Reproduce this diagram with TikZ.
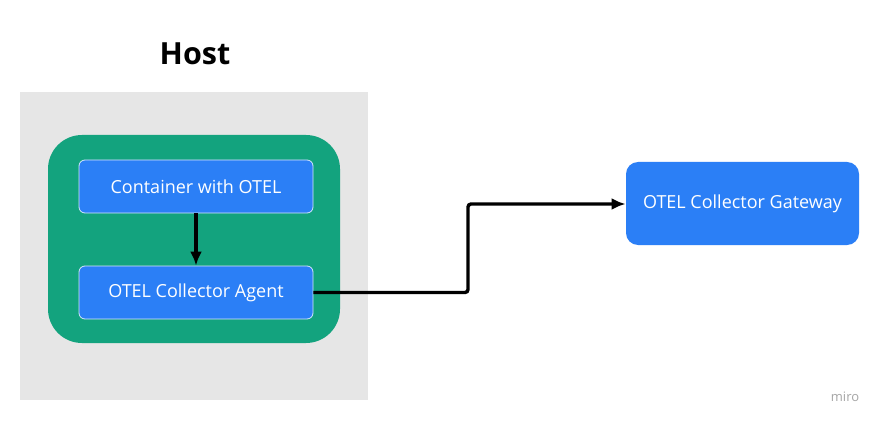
\documentclass[tikz,border=0pt]{standalone}
\usepackage{fontspec}
\setmainfont{Open Sans}
\definecolor{hostgrey}{HTML}{E6E6E6}
\definecolor{podgreen}{HTML}{13A37E}
\definecolor{boxblue}{HTML}{2B7FF6}
\tikzset{
  bluebox/.style={fill=boxblue,draw=white!80!boxblue,line width=0.8pt,rounded corners=6pt,text=white,font=\fontsize{18}{22}\selectfont},
  conn/.style={line width=3.4pt,-{Latex[length=14pt,width=12pt]}}
}
\usetikzlibrary{arrows.meta}
\begin{document}
\begin{tikzpicture}[x=1pt,y=-1pt]
\useasboundingbox (0,0) rectangle (880,422);
\fill[white] (0,0) rectangle (880,422);
\fill[hostgrey] (20,92) rectangle (368,400);
\node[font=\bfseries\fontsize{30.5}{36}\selectfont] (host) at (195,54) {Host};
\fill[podgreen,rounded corners=34pt] (48,135) rectangle (340,343);
\node[bluebox,minimum width=234pt,minimum height=53pt] (cont) at (196,186.5) {Container with OTEL};
\node[bluebox,minimum width=234pt,minimum height=53pt] (agent) at (196,292.5) {OTEL Collector Agent};
\node[bluebox,draw=none,rounded corners=12pt,minimum width=233pt,minimum height=83pt] (gw) at (742.5,203.5) {OTEL Collector Gateway};
\node[text=gray!70,font=\fontsize{13}{14}\selectfont] (miro) at (845,397) {miro};
\draw[conn] (cont) -- (agent);
\draw[conn,rounded corners=3pt] (agent.east) -- (468,292.5) -- (468,204) -- (gw.west |- 0,204);
\end{tikzpicture}
\end{document}
